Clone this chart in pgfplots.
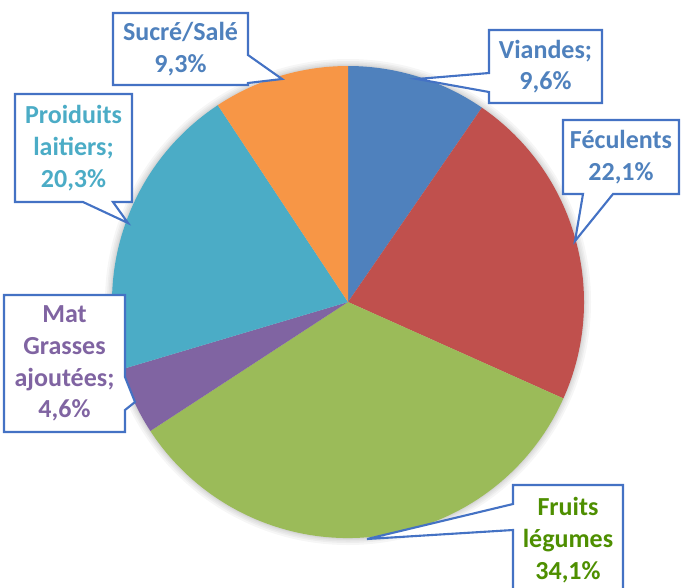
\documentclass[border=0pt]{standalone}
\usepackage{pgfplots}
\pgfplotsset{compat=1.18}
\usepackage{fontspec}
\setmainfont{Carlito}
\definecolor{cViandes}{HTML}{4F81BD}
\definecolor{cFec}{HTML}{C0504D}
\definecolor{cFruits}{HTML}{9BBB59}
\definecolor{cMat}{HTML}{8064A2}
\definecolor{cLait}{HTML}{4BACC6}
\definecolor{cSucre}{HTML}{F79646}
\definecolor{cBorder}{HTML}{4472C4}
\definecolor{tBlue}{HTML}{4F81BD}
\definecolor{tGreen}{HTML}{4E8F00}
\newcommand\lab{\bfseries\fontsize{7.4}{9}\selectfont}
% data (percent)
\def\vViandes{9.6}
\def\vFec{22.1}
\def\vFruits{34.1}
\def\vMat{4.6}
\def\vLait{20.3}
\def\vSucre{9.3}
\pgfmathsetmacro\aO{90}
\pgfmathsetmacro\aA{\aO-3.6*\vViandes}
\pgfmathsetmacro\aB{\aA-3.6*\vFec}
\pgfmathsetmacro\aC{\aB-3.6*\vFruits}
\pgfmathsetmacro\aD{\aC-3.6*\vMat}
\pgfmathsetmacro\aE{\aD-3.6*\vLait}
\pgfmathsetmacro\aF{\aE-3.6*\vSucre}
\newcommand\slice[3]{\fill[#3] (axis cs:348,285) -- (axis cs:{348+236*cos(#1)},{285+236*sin(#1)}) arc[start angle=#1, end angle=#2, radius=2.36cm] -- cycle;}
\newcommand\PP[2]{(axis cs:#1,{587-#2})}
\begin{document}
\begin{tikzpicture}
\begin{axis}[scale only axis, width=6.81cm, height=5.87cm,
  xmin=0, xmax=681, ymin=0, ymax=587, hide axis, clip=true]
% soft shadow
\fill[black, opacity=0.035] (axis cs:348,285) circle[radius=2.43cm];
\fill[black, opacity=0.035] (axis cs:348,285) circle[radius=2.41cm];
\fill[black, opacity=0.035] (axis cs:348,285) circle[radius=2.395cm];
\fill[black, opacity=0.035] (axis cs:348,285) circle[radius=2.38cm];
\fill[black, opacity=0.035] (axis cs:348,285) circle[radius=2.37cm];
\slice{\aO}{\aA}{cViandes}
\slice{\aA}{\aB}{cFec}
\slice{\aB}{\aC}{cFruits}
\slice{\aC}{\aD}{cMat}
\slice{\aD}{\aE}{cLait}
\slice{\aE}{\aF}{cSucre}
% callouts
\filldraw[line width=0.6pt, draw=cBorder, fill=white] \PP{113}{13} -- \PP{248}{13} -- \PP{248}{55} -- \PP{282}{79} -- \PP{248}{83} -- \PP{248}{85} -- \PP{113}{85} -- cycle;
\filldraw[line width=0.6pt, draw=cBorder, fill=white] \PP{489}{30} -- \PP{602}{30} -- \PP{602}{103} -- \PP{489}{103} -- \PP{489}{92} -- \PP{417}{79} -- \PP{489}{73} -- cycle;
\filldraw[line width=0.6pt, draw=cBorder, fill=white] \PP{563}{120} -- \PP{679}{120} -- \PP{679}{194} -- \PP{613}{194} -- \PP{575}{241} -- \PP{583}{194} -- \PP{563}{194} -- cycle;
\filldraw[line width=0.6pt, draw=cBorder, fill=white] \PP{15}{94} -- \PP{132}{94} -- \PP{132}{202} -- \PP{113}{202} -- \PP{128}{223} -- \PP{83}{202} -- \PP{15}{202} -- cycle;
\filldraw[line width=0.6pt, draw=cBorder, fill=white] \PP{4}{295} -- \PP{125}{295} -- \PP{125}{377} -- \PP{135}{402} -- \PP{125}{410} -- \PP{125}{432} -- \PP{4}{432} -- cycle;
\filldraw[line width=0.6pt, draw=cBorder, fill=white] \PP{513}{485} -- \PP{623}{485} -- \PP{623}{620} -- \PP{513}{620} -- \PP{513}{530} -- \PP{367}{539} -- \PP{513}{504} -- cycle;
\node[align=center, text=tBlue, font=\lab, inner sep=0pt] at \PP{180.5}{49} {Sucré/Salé\\9,3\%};
\node[align=center, text=tBlue, font=\lab, inner sep=0pt] at \PP{545.5}{66.5} {Viandes;\\9,6\%};
\node[align=center, text=tBlue, font=\lab, inner sep=0pt] at \PP{621}{157} {Féculents\\22,1\%};
\node[align=center, text=cLait, font=\lab, inner sep=0pt] at \PP{73.5}{148} {Proiduits\\laitiers;\\20,3\%};
\node[align=center, text=cMat, font=\lab, inner sep=0pt] at \PP{64.5}{363.5} {Mat\\Grasses\\ajoutées;\\4,6\%};
\node[align=center, text=tGreen, font=\lab, inner sep=0pt] at \PP{568}{540} {Fruits\\légumes\\34,1\%};
\end{axis}
\pgfresetboundingbox
\useasboundingbox (current axis.south west) rectangle (current axis.north east);
\end{tikzpicture}
\end{document}
